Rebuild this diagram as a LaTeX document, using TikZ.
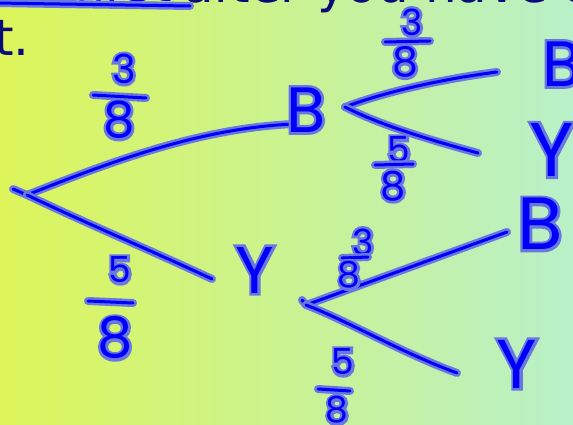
\documentclass[tikz,border=0pt]{standalone}
\usepackage{fontspec}
\setmainfont{Poppins}
\newfontfamily\topfont{DejaVu Sans}
\definecolor{bgl}{RGB}{221,245,90}
\definecolor{bgm}{RGB}{206,242,140}
\definecolor{bgr}{RGB}{184,240,200}
\definecolor{ink}{RGB}{0,0,250}
\definecolor{halo}{RGB}{105,120,225}
\definecolor{navy}{RGB}{10,10,120}
\tikzset{
  hand/.style={draw=ink, line width=3pt, line cap=round, line join=round,
    preaction={draw=halo, line width=8pt, line cap=round, line join=round}},
  hwhalo/.style={text=halo, inner sep=0pt},
  hwcore/.style={text=ink, inner sep=0pt},
  toptext/.style={text=navy, inner sep=0pt, font=\topfont\fontsize{50}{50}\selectfont}
}
% #1 name, #2 position, #3 size, #4 text, #5 halo emboldening
\newcommand{\hwtext}[5]{%
  \node[hwhalo, font=\fontsize{#3}{#3}\selectfont\addfontfeatures{FakeBold=#5}] at (#2) {#4};%
  \node[hwcore, font=\fontsize{#3}{#3}\selectfont] (#1) at (#2) {#4};}
\begin{document}
\begin{tikzpicture}[x=1pt, y=-1pt]
\useasboundingbox (0,0) rectangle (573,425);
\clip (0,0) rectangle (573,425);
\shade[left color=bgl, middle color=bgm, right color=bgr] (0,0) rectangle (573,425);
% top text (cut off)
\node[toptext, anchor=base east, text=ink] (t1a) at (172,2) {the first};
\node[toptext, anchor=base west] (t1b) at (183,3) {after you have taken};
\node[toptext, anchor=base west] (t2) at (-6,56) {t.};
\coordinate (ul1) at (-5,3);
\coordinate (ul2) at (190,6);
\draw[hand] (ul1) -- (ul2);
% coordinates
\coordinate (rh) at (13,189);
\coordinate (r) at (27,195);
\coordinate (b1in) at (294,124);
\coordinate (y1in) at (212,279);
\coordinate (v1) at (345,107);
\coordinate (v1u) at (497,72);
\coordinate (v1d) at (478,153);
\coordinate (v2h) at (302,300);
\coordinate (v2) at (306,305);
\coordinate (v2u) at (507,232);
\coordinate (v2d) at (457,373);
% branches
\draw[hand] (rh) -- (r);
\draw[hand] (r) .. controls (110,162) and (200,128) .. (b1in);
\draw[hand] (r) .. controls (90,225) and (150,250) .. (y1in);
\draw[hand] (v1) .. controls (390,90) and (450,78) .. (v1u);
\draw[hand] (v1) .. controls (380,125) and (430,140) .. (v1d);
\draw[hand] (v2h) -- (v2);
\draw[hand] (v2) -- (v2u);
\draw[hand] (v2) .. controls (350,322) and (400,352) .. (v2d);
% outcome letters
\hwtext{b1}{306,110}{64}{B}{8.1}
\hwtext{y1}{255,270}{66}{Y}{7.9}
\hwtext{bb}{562,64}{64}{B}{8.1}
\hwtext{by}{552,150}{76}{Y}{6.8}
\hwtext{yb}{540,224}{74}{B}{7.0}
\hwtext{yy}{517,364}{69}{Y}{7.5}
% fractions
\hwtext{f1n}{124,69}{40}{3}{13}
\coordinate (f1a) at (93,95); \coordinate (f1b) at (146,98);
\draw[hand] (f1a) -- (f1b);
\hwtext{f1d}{119,120}{50}{8}{10.4}
\hwtext{f2n}{120,270}{36}{5}{14.4}
\coordinate (f2a) at (88,301); \coordinate (f2b) at (133,303);
\draw[hand] (f2a) -- (f2b);
\hwtext{f2d}{115,338}{56}{8}{9.3}
\hwtext{f3n}{412,22}{36}{3}{14.4}
\coordinate (f3a) at (385,42); \coordinate (f3b) at (430,41);
\draw[hand] (f3a) -- (f3b);
\hwtext{f3d}{405,62}{41}{8}{12.7}
\hwtext{f4n}{399,150}{36}{5}{14.4}
\coordinate (f4a) at (375,165); \coordinate (f4b) at (413,164);
\draw[hand] (f4a) -- (f4b);
\hwtext{f4d}{393,186}{40}{8}{13}
\hwtext{f5n}{363,242}{36}{3}{14.4}
\coordinate (f5a) at (342,258); \coordinate (f5b) at (368,257);
\draw[hand] (f5a) -- (f5b);
\hwtext{f5d}{349,275}{36}{8}{14.4}
\hwtext{f6n}{343,362}{36}{5}{14.4}
\coordinate (f6a) at (318,389); \coordinate (f6b) at (350,391);
\draw[hand] (f6a) -- (f6b);
\hwtext{f6d}{337,410}{36}{8}{14.4}
\end{tikzpicture}
\end{document}
